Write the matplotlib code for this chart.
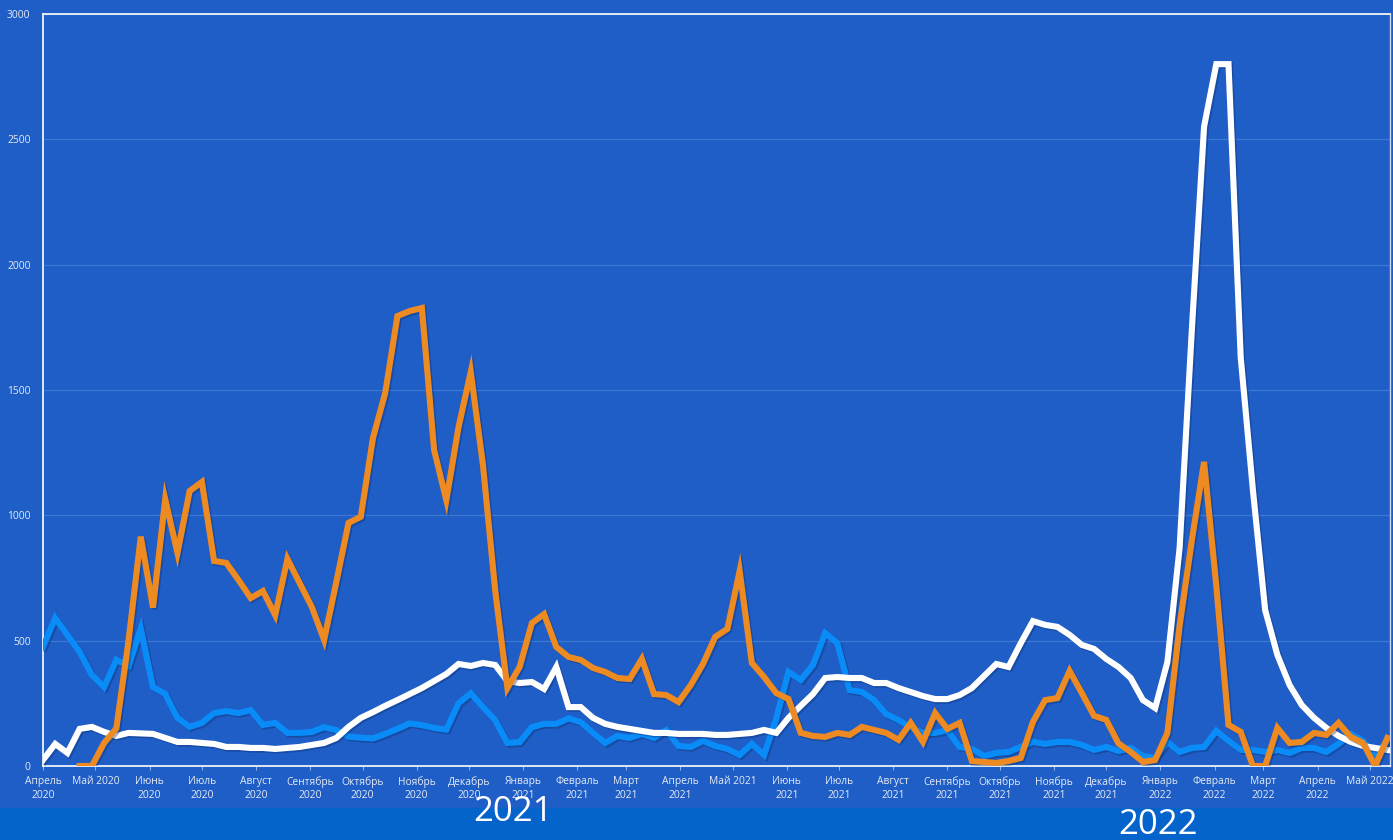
import numpy as np
import pandas as pd
import matplotlib
matplotlib.use("Agg")
import matplotlib.pyplot as plt
import matplotlib.patheffects as pe

plt.rcParams['font.family'] = ['Open Sans', 'DejaVu Sans']

# weekly points, April 2020 - May 2022
dates = pd.date_range('2020-04-01', periods=111, freq='7D')

blue = [475, 590, 523, 455, 363, 315, 423, 399, 547, 315, 287, 192, 156, 172, 211, 219,
        211, 223, 164, 172, 132, 132, 136, 155, 143, 117, 113, 110, 128, 148, 170, 163,
        152, 145, 250, 290, 235, 183, 92, 95, 155, 168, 168, 190, 175, 132, 92, 120,
        112, 128, 112, 143, 80, 76, 100, 80, 68, 44, 88, 44, 190, 375, 343, 403,
        530, 490, 303, 295, 263, 207, 183, 152, 132, 132, 143, 76, 68, 40, 52, 56,
        76, 96, 88, 96, 96, 84, 64, 76, 60, 72, 40, 32, 96, 56, 72, 76,
        140, 100, 64, 64, 56, 64, 52, 72, 72, 56, 88, 128, 100, 44, 100]

white = [24, 88, 52, 148, 156, 136, 120, 132, 130, 128, 112, 96, 96, 92, 88, 76,
         76, 72, 72, 68, 72, 76, 84, 92, 112, 156, 192, 215, 240, 263, 287, 311,
         339, 367, 407, 399, 411, 403, 339, 331, 335, 307, 395, 235, 235, 192, 168, 156,
         148, 140, 132, 132, 128, 128, 128, 124, 124, 128, 132, 144, 132, 192, 240, 287,
         351, 355, 351, 351, 331, 331, 311, 295, 279, 267, 267, 283, 311, 359, 407, 395,
         490, 578, 563, 555, 523, 483, 467, 427, 395, 351, 263, 231, 415, 870, 1740, 2550,
         2800, 2800, 1630, 1100, 622, 443, 323, 243, 192, 152, 120, 96, 80, 72, 64]

orange = [np.nan, np.nan, np.nan, 0, 0, 92, 150, 500, 915, 632, 1065, 850, 1097, 1133, 818, 810,
          742, 670, 698, 602, 826, 730, 634, 503, 734, 970, 994, 1309, 1488, 1795, 1815, 1827,
          1261, 1061, 1352, 1572, 1200, 700, 311, 395, 570, 606, 475, 435, 423, 391, 375, 351,
          347, 427, 287, 283, 255, 323, 407, 515, 547, 778, 411, 355, 291, 267, 132, 120,
          116, 132, 124, 156, 144, 132, 104, 172, 96, 211, 148, 172, 20, 16, 12, 20,
          32, 176, 263, 271, 379, 291, 200, 184, 90, 56, 16, 24, 132, 560, 900, 1213,
          720, 164, 136, 0, 0, 152, 92, 96, 132, 124, 172, 116, 92, 0, 112]

month_ticks = pd.date_range('2020-04-01', '2022-05-01', freq='MS')
month_labels = ["Апрель\n2020", "Май 2020", "Июнь\n2020", "Июль\n2020", "Август\n2020",
                "Сентябрь\n2020", "Октябрь\n2020", "Ноябрь\n2020", "Декабрь\n2020",
                "Январь\n2021", "Февраль\n2021", "Март\n2021", "Апрель\n2021", "Май 2021",
                "Июнь\n2021", "Июль\n2021", "Август\n2021", "Сентябрь\n2021", "Октябрь\n2021",
                "Ноябрь\n2021", "Декабрь\n2021", "Январь\n2022", "Февраль\n2022", "Март\n2022",
                "Апрель\n2022", "Май 2022"]

bg = '#1f5ec6'
fig = plt.figure(figsize=(13.93, 8.40), dpi=100, facecolor=bg)
ax = fig.add_axes([43 / 1393, 1 - 766 / 840, (1390 - 43) / 1393, (766 - 14) / 840])
ax.set_facecolor(bg)

shadow = [pe.SimpleLineShadow(offset=(1.2, -1.2), alpha=0.35, shadow_color='#0a2a66'), pe.Normal()]
ax.plot(dates, blue, color='#0a8cf8', lw=4.4, solid_joinstyle='miter', path_effects=shadow, zorder=3)
ax.plot(dates, white, color='white', lw=4.4, solid_joinstyle='miter', path_effects=shadow, zorder=4)
ax.plot(dates, orange, color='#ee8a22', lw=4.4, solid_joinstyle='miter', path_effects=shadow, zorder=5)

ax.set_ylim(0, 3000)
ax.set_xlim(dates[0], dates[0] + pd.Timedelta(days=771.5))
ax.set_yticks(np.arange(0, 3001, 500))
ax.yaxis.grid(True, color='#3d77d2', lw=0.9)
ax.set_axisbelow(True)

ax.set_xticks(month_ticks)
ax.set_xticklabels(month_labels, fontsize=7.4, color='#e6ebf5', linespacing=1.35)
ax.tick_params(axis='x', length=3, color='#8fb0e6', pad=4)
ax.tick_params(axis='y', length=0, labelsize=7.4, labelcolor='#e6ebf5', pad=9)

for s in ['left', 'top', 'bottom']:
    ax.spines[s].set_color('white')
    ax.spines[s].set_linewidth(1.2)
ax.spines['right'].set_color('#c8d6f0')
ax.spines['right'].set_linewidth(1.0)

# bottom band with year captions
fig.patches.append(plt.Rectangle((0, 0), 1, 32 / 840, transform=fig.transFigure,
                                 color='#0563cc', zorder=0))
fig.text(513 / 1393, 1 - 812 / 840, "2021", color='white', fontsize=25,
         ha='center', va='center')
fig.text(1158 / 1393, 1 - 825 / 840, "2022", color='white', fontsize=25,
         ha='center', va='center')

fig.savefig('out.png', dpi=100, facecolor=bg)
